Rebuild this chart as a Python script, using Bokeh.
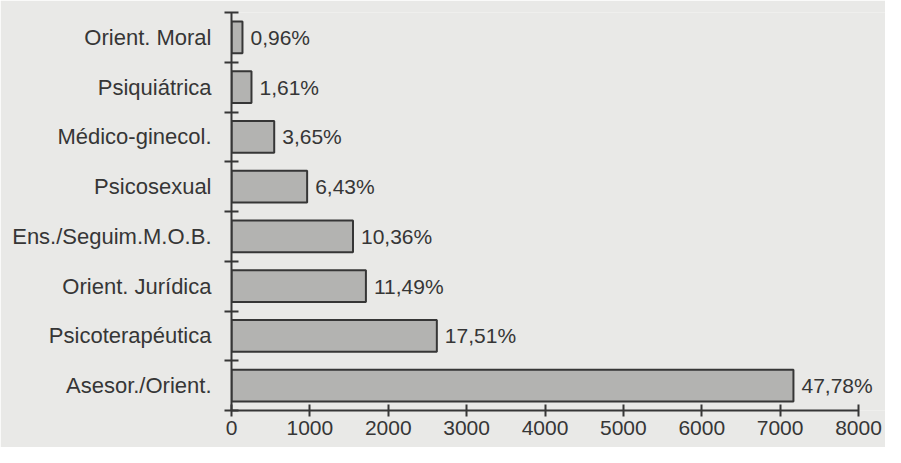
from bokeh.plotting import figure
from bokeh.models import Range1d, FixedTicker, ColumnDataSource
from bokeh.core.properties import value
from bokeh.embed import file_html
from bokeh.resources import INLINE

# Data (top to bottom as in the reference)
categories = ["Orient. Moral", "Psiquiátrica", "Médico-ginecol.", "Psicosexual",
              "Ens./Seguim.M.O.B.", "Orient. Jurídica", "Psicoterapéutica", "Asesor./Orient."]
counts = [140, 255, 545, 965, 1550, 1715, 2620, 7170]
pct_labels = ["0,96%", "1,61%", "3,65%", "6,43%", "10,36%", "11,49%", "17,51%", "47,78%"]
x_ticks = [0, 1000, 2000, 3000, 4000, 5000, 6000, 7000, 8000]

BG = "#e9e9e7"
INK = "#363636"
FONT = "Liberation Sans"

n = len(categories)
ypos = [n - 1 - i + 0.5 for i in range(n)]

src = ColumnDataSource(dict(cat=categories, count=counts, y=ypos, pct=pct_labels))

W, H = 885, 447
left = 231
span_px = 627          # pixels from 0 to 8000
x_end = (W - left) * 8000 / span_px
top, bottom_frame = 12, 410

p = figure(width=W, height=H, output_backend="svg", toolbar_location=None,
           x_range=Range1d(0, x_end), y_range=Range1d(0, n),
           min_border_left=left, min_border_right=0,
           min_border_top=top, min_border_bottom=H - bottom_frame)
p.background_fill_color = BG
p.border_fill_color = BG
p.outline_line_color = None
p.xgrid.grid_line_color = None
p.ygrid.grid_line_color = None

p.hbar(y="y", right="count", left=0, height=0.64, source=src,
       fill_color="#b3b3b1", line_color=INK, line_width=2)

p.text(x="count", y="y", text="pct", source=src, x_offset=8,
       text_baseline="middle", text_align="left",
       text_font=value(FONT), text_font_size="21px", text_color=INK)

# x axis
xa = p.xaxis[0]
xa.ticker = FixedTicker(ticks=x_ticks)
xa.bounds = (x_ticks[0], x_ticks[-1])
xa.axis_line_width = 2
xa.axis_line_color = INK
xa.major_tick_line_width = 2
xa.major_tick_line_color = INK
xa.major_tick_in = 6
xa.major_tick_out = 6
xa.minor_tick_line_color = None
xa.major_label_text_font = FONT
xa.major_label_text_font_size = "21px"
xa.major_label_text_color = INK
xa.major_label_standoff = 4

# y axis: labels at bar centres, boundary ticks as minor ticks
ya = p.yaxis[0]
ya.ticker = FixedTicker(ticks=ypos, minor_ticks=list(range(n + 1)))
ya.bounds = (0, n)
ya.major_label_overrides = {y: c for y, c in zip(ypos, categories)}
ya.axis_line_width = 2
ya.axis_line_color = INK
ya.major_tick_in = 0
ya.major_tick_out = 0
ya.minor_tick_in = 7
ya.minor_tick_out = 7
ya.minor_tick_line_width = 2
ya.minor_tick_line_color = INK
ya.major_label_text_font = FONT
ya.major_label_text_font_size = "22px"
ya.major_label_text_color = INK
ya.major_label_standoff = 13

html = file_html(p, INLINE)
html = html.replace("<body>", '<body style="background-color:%s;">' % BG, 1)
open("out.html", "w").write(html)
